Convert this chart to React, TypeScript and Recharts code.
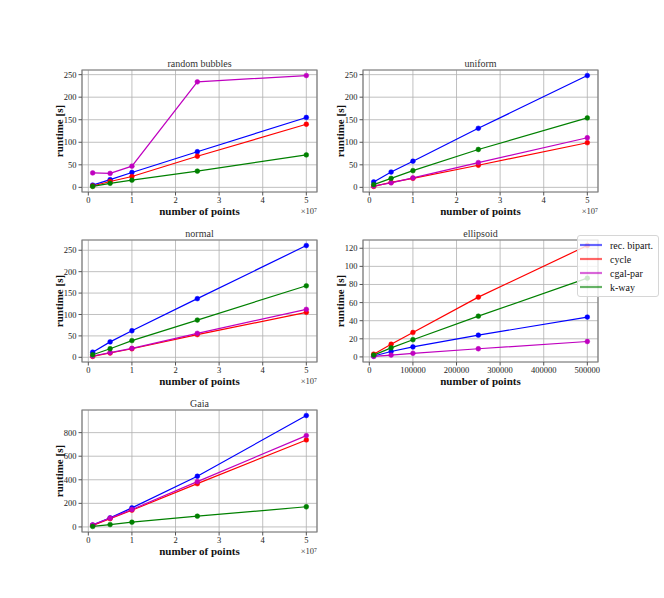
import React from 'react'
import {
  CartesianGrid,
  Label,
  Legend,
  Line,
  LineChart,
  ReferenceArea,
  XAxis,
  YAxis,
} from 'recharts'

const FONT = '"Liberation Serif", "DejaVu Serif", serif'

const pointCounts = [1e6, 5e6, 1e7, 2.5e7, 5e7]
const ellipsoidCounts = [1e4, 5e4, 1e5, 2.5e5, 5e5]

const millionTicks = [0, 1e7, 2e7, 3e7, 4e7, 5e7]
const ellipsoidTicks = [0, 100000, 200000, 300000, 400000, 500000]
const runtimeTicks = [0, 50, 100, 150, 200, 250]
const ellipsoidRuntimeTicks = [0, 20, 40, 60, 80, 100, 120]
const gaiaRuntimeTicks = [0, 200, 400, 600, 800]

const bubblesRec = [5, 17, 33, 79, 155]
const bubblesCycle = [3, 13, 24, 69, 140]
const bubblesCgal = [32, 31, 47, 234, 248]
const bubblesKway = [2, 9, 16, 36, 72]

const uniformRec = [12, 34, 58, 131, 248]
const uniformCycle = [2, 11, 20, 49, 99]
const uniformCgal = [3, 10, 21, 55, 110]
const uniformKway = [6, 20, 37, 84, 154]

const normalRec = [12, 36, 62, 137, 261]
const normalCycle = [2, 10, 20, 53, 105]
const normalCgal = [3, 11, 21, 56, 112]
const normalKway = [6, 20, 39, 87, 167]

const ellipsoidRec = [1, 6, 11, 24, 44]
const ellipsoidCycle = [3, 14, 27, 66, 123]
const ellipsoidCgal = [0.5, 2, 4, 9, 17]
const ellipsoidKway = [2, 10, 19, 45, 87]

const gaiaRec = [15, 77, 162, 430, 945]
const gaiaCycle = [12, 70, 142, 367, 738]
const gaiaCgal = [18, 75, 148, 384, 775]
const gaiaKway = [4, 20, 40, 91, 171]

const seriesKeys = ['rec', 'cycle', 'cgal', 'kway']
const seriesNames = ['rec. bipart.', 'cycle', 'cgal-par', 'k-way']
const seriesColors = ['#0000ff', '#ff0000', '#bf00bf', '#008000']

const AX_W = 235
const AX_H = 122
const Y_W = 48
const M_TOP = 20
const M_RIGHT = 15
const X_H = 30

// matplotlib-style 5% margins around the data
function padded(values: number[]): [number, number] {
  const lo = Math.min(...values)
  const hi = Math.max(...values)
  const m = (hi - lo) * 0.05
  return [lo - m, hi + m]
}

type PanelProps = {
  title: string
  xs: number[]
  values: number[][]
  xTicks: number[]
  yTicks: number[]
  scaled: boolean
  left: number
  top: number
  legend?: boolean
}

function LegendBox({ payload }: any) {
  const entries = [...(payload ?? [])].sort(
    (a: any, b: any) => seriesNames.indexOf(a.value) - seriesNames.indexOf(b.value),
  )
  return (
    <div
      style={{
        background: 'rgba(255,255,255,0.8)',
        border: '1px solid #d6d6d6',
        borderRadius: 3,
        padding: '2px 4px 2px 2px',
        fontFamily: FONT,
        fontSize: 10,
        whiteSpace: 'nowrap',
      }}
    >
      {entries.map((entry: any) => (
        <div key={entry.value} style={{ display: 'flex', alignItems: 'center', height: 14 }}>
          <svg width={22} height={6} style={{ marginRight: 8, flex: 'none' }}>
            <line x1={0} y1={3} x2={22} y2={3} stroke={entry.color} strokeWidth={2.2} strokeOpacity={0.6} />
          </svg>
          <span style={{ color: '#111' }}>{entry.value}</span>
        </div>
      ))}
    </div>
  )
}

function Panel({ title, xs, values, xTicks, yTicks, scaled, left, top, legend }: PanelProps) {
  const rows = xs.map((x, i) => {
    const row: Record<string, number> = { x }
    seriesKeys.forEach((key, s) => {
      row[key] = values[s][i]
    })
    return row
  })
  const xDomain = padded(xs)
  const yDomain = padded(values.flat())
  const extraRight = legend ? 70 : 0
  const chartLeft = left - Y_W
  const chartTop = top - M_TOP
  const tickStyle = { fontSize: 8.5, fill: '#222', fontFamily: FONT }

  return (
    <>
      <div
        style={{
          position: 'absolute',
          left,
          top: top - 11,
          width: AX_W,
          textAlign: 'center',
          fontFamily: FONT,
          fontSize: 10,
          lineHeight: '10px',
          color: '#333',
        }}
      >
        {title}
      </div>
      <div style={{ position: 'absolute', left: chartLeft, top: chartTop }}>
        <LineChart
          width={Y_W + AX_W + M_RIGHT + extraRight}
          height={M_TOP + AX_H + X_H + 4}
          data={rows}
          margin={{ top: M_TOP, right: M_RIGHT + extraRight, bottom: 4, left: 0 }}
        >
          <CartesianGrid stroke="#b0b0b0" strokeWidth={0.8} />
          <XAxis
            dataKey="x"
            type="number"
            domain={xDomain}
            allowDataOverflow
            ticks={xTicks}
            tickFormatter={(v: number) => (scaled ? String(v / 1e7) : String(v))}
            tick={tickStyle}
            tickSize={3.5}
            tickMargin={1}
            axisLine={false}
            tickLine={{ stroke: '#555' }}
            height={X_H}
            interval={0}
          >
            <Label
              value="number of points"
              position="center"
              dy={4}
              style={{ fontFamily: FONT, fontSize: 11, fontWeight: 'bold', fill: '#111' }}
            />
            {scaled && (
              <Label
                value={'×10⁷'}
                position="insideRight"
                offset={0}
                dy={4}
                style={{ fontFamily: FONT, fontSize: 8.5, fill: '#333' }}
              />
            )}
          </XAxis>
          <YAxis
            type="number"
            domain={yDomain}
            allowDataOverflow
            ticks={yTicks}
            tick={tickStyle}
            tickSize={3.5}
            tickMargin={2}
            axisLine={false}
            tickLine={{ stroke: '#555' }}
            width={Y_W}
            interval={0}
          >
            <Label
              value="runtime [s]"
              position="center"
              angle={-90}
              dx={1}
              style={{ fontFamily: FONT, fontSize: 11, fontWeight: 'bold', fill: '#111' }}
            />
          </YAxis>
          {seriesKeys.map((key, s) => (
            <Line
              key={key}
              dataKey={key}
              name={seriesNames[s]}
              stroke={seriesColors[s]}
              strokeWidth={1.2}
              dot={{ r: 2.4, fill: seriesColors[s], stroke: seriesColors[s], strokeWidth: 0.5 }}
              activeDot={false}
              isAnimationActive={false}
              legendType="plainline"
            />
          ))}
          <ReferenceArea
            x1={xDomain[0]}
            x2={xDomain[1]}
            y1={yDomain[0]}
            y2={yDomain[1]}
            fill="none"
            fillOpacity={0}
            stroke="#808080"
            strokeWidth={1.2}
            ifOverflow="visible"
          />
          {legend && (
            <Legend
              layout="vertical"
              align="center"
              verticalAlign="middle"
              content={<LegendBox />}
              wrapperStyle={{ position: 'absolute', left: 577 - chartLeft, top: 235 - chartTop, width: 82, height: 'auto' }}
            />
          )}
        </LineChart>
      </div>
    </>
  )
}

export default function App() {
  return (
    <div style={{ position: 'absolute', left: 0, top: 0, width: 664, height: 598, background: '#fff' }}>
      <Panel
        title="random bubbles"
        xs={pointCounts}
        values={[bubblesRec, bubblesCycle, bubblesCgal, bubblesKway]}
        xTicks={millionTicks}
        yTicks={runtimeTicks}
        scaled
        left={82}
        top={70}
      />
      <Panel
        title="uniform"
        xs={pointCounts}
        values={[uniformRec, uniformCycle, uniformCgal, uniformKway]}
        xTicks={millionTicks}
        yTicks={runtimeTicks}
        scaled
        left={363}
        top={70}
      />
      <Panel
        title="normal"
        xs={pointCounts}
        values={[normalRec, normalCycle, normalCgal, normalKway]}
        xTicks={millionTicks}
        yTicks={runtimeTicks}
        scaled
        left={82}
        top={240}
      />
      <Panel
        title="ellipsoid"
        xs={ellipsoidCounts}
        values={[ellipsoidRec, ellipsoidCycle, ellipsoidCgal, ellipsoidKway]}
        xTicks={ellipsoidTicks}
        yTicks={ellipsoidRuntimeTicks}
        scaled={false}
        left={363}
        top={240}
        legend
      />
      <Panel
        title="Gaia"
        xs={pointCounts}
        values={[gaiaRec, gaiaCycle, gaiaCgal, gaiaKway]}
        xTicks={millionTicks}
        yTicks={gaiaRuntimeTicks}
        scaled
        left={82}
        top={410}
      />
    </div>
  )
}
